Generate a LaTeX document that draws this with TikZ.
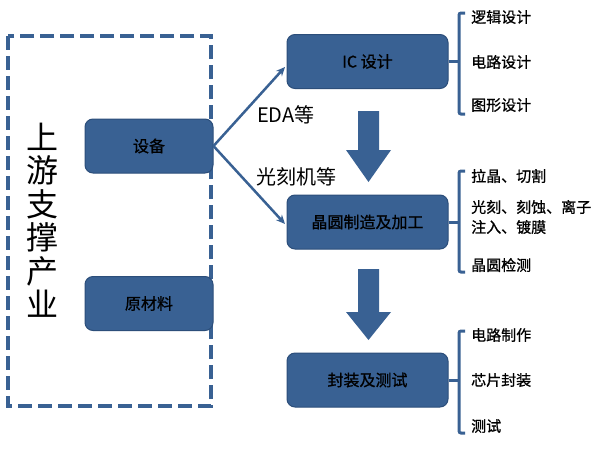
\documentclass[tikz,border=0pt]{standalone}
\usepackage{fontspec}
\setmainfont{Noto Sans CJK SC}
\newfontfamily\medfont[FakeBold=0.9]{Noto Sans CJK SC}
\usetikzlibrary{arrows.meta}
\definecolor{boxblue}{RGB}{57,97,147}
\definecolor{boxedge}{RGB}{44,78,122}
\begin{document}
\begin{tikzpicture}[x=1pt,y=-1pt,
  stagebox/.style={draw=boxedge,line width=1pt,fill=boxblue,rounded corners=8pt,
    minimum width=161pt,minimum height=54pt,inner sep=0pt,text=black,
    font=\medfont\fontsize{16}{18}\selectfont},
  srcbox/.style={stagebox,minimum width=128pt},
  item/.style={anchor=west,inner sep=0pt,text=black,font=\medfont\fontsize{15}{17}\selectfont},
  lbl/.style={anchor=west,inner sep=0pt,text=black,font=\fontsize{20}{22}\selectfont},
  brk/.style={draw=boxblue,line width=3pt,rounded corners=2pt},
  bigarrow/.style={fill=boxblue,draw=none},
  thinarrow/.style={draw=boxblue,line width=2.5pt,-{Stealth[length=9pt,width=8pt]}}
]
\useasboundingbox (0,0) rectangle (615,450);
\fill[white] (0,0) rectangle (615,450);

% dashed frame
\draw[boxblue,line width=4pt,dash pattern=on 14pt off 6pt] (8,36) rectangle (211,406);
\node[inner sep=0pt,align=center,font=\fontsize{32}{33.5}\selectfont] (up) at (42,220) {上\\游\\支\\撑\\产\\业};

% source boxes
\node[srcbox] (dev) at (149,146) {设备};
\node[srcbox] (mat) at (149,303.5) {原材料};

% stage boxes
\node[stagebox] (ic) at (367.5,61.5) {IC 设计};
\node[stagebox] (wf) at (367.5,222) {晶圆制造及加工};
\node[stagebox] (pk) at (367.5,380) {封装及测试};

% thin arrows
\coordinate (t1) at (285,67);
\coordinate (t2) at (285,224);
\draw[thinarrow] (dev.east) -- (t1);
\draw[thinarrow] (dev.east) -- (t2);
\node[lbl] (eda) at (257,115) {EDA等};
\node[lbl] (litho) at (256,177) {光刻机等};

% big arrows
\fill[bigarrow] (358,111) -- (379,111) -- (379,150) -- (391,150) -- (368.5,182) -- (346,150) -- (358,150) -- cycle;
\fill[bigarrow] (358,269) -- (379,269) -- (379,312) -- (391,312) -- (368.5,340) -- (346,312) -- (358,312) -- cycle;

% brackets
\draw[brk] (465,13) -- (459,13) -- (459,114) -- (465,114);
\draw[brk] (ic.east) -- (459,61.5);
\draw[brk] (465,171) -- (459,171) -- (459,272) -- (465,272);
\draw[brk] (wf.east) -- (459,222);
\draw[brk] (465,331) -- (459,331) -- (459,433) -- (465,433);
\draw[brk] (pk.east) -- (459,380);

% items
\node[item] (i1) at (471,17) {逻辑设计};
\node[item] (i2) at (471,62) {电路设计};
\node[item] (i3) at (471,105) {图形设计};
\node[item] (j1) at (471,176) {拉晶、切割};
\node[item,align=left,font=\medfont\fontsize{15}{20}\selectfont] (j2) at (471,217) {光刻、刻蚀、离子\\注入、镀膜};
\node[item] (j3) at (471,265) {晶圆检测};
\node[item] (k1) at (471,335) {电路制作};
\node[item] (k2) at (471,380) {芯片封装};
\node[item] (k3) at (471,426) {测试};
\end{tikzpicture}
\end{document}
